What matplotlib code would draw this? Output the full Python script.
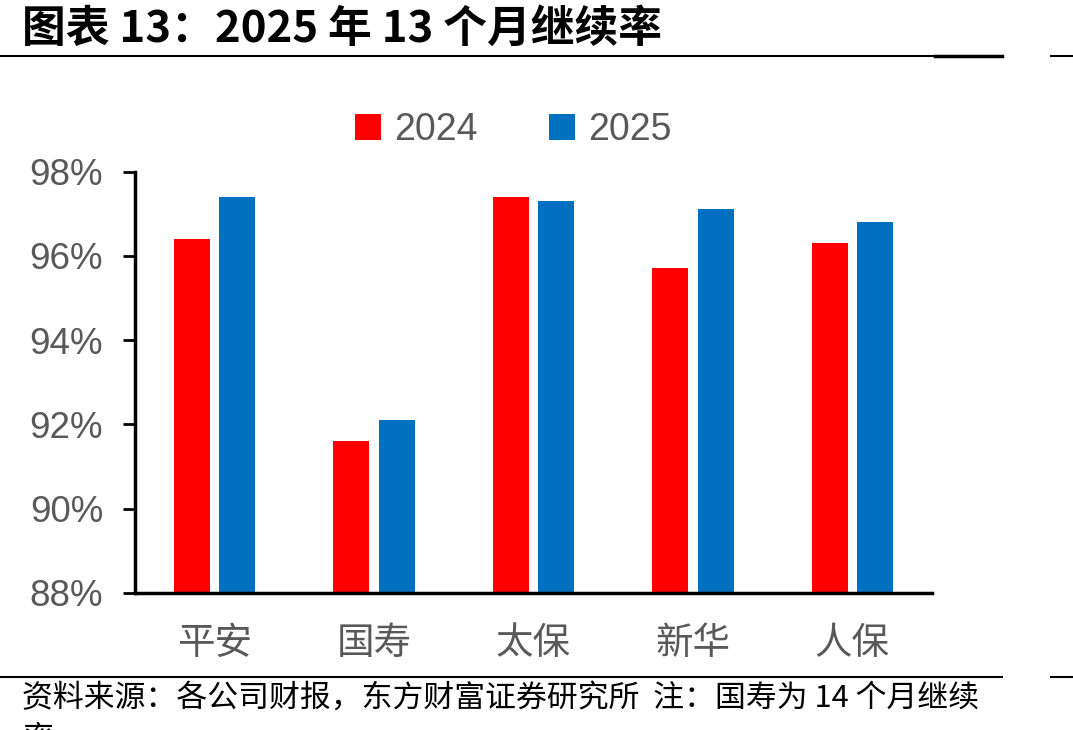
import matplotlib
matplotlib.use("Agg")
import numpy as np
import matplotlib.pyplot as plt
from matplotlib.lines import Line2D
from matplotlib.ticker import FuncFormatter

plt.rcParams['font.family'] = ['Liberation Sans', 'Noto Sans CJK SC', 'DejaVu Sans']

# ---------------- data ----------------
companies = ["平安", "国寿", "太保", "新华", "人保"]
rate_2024 = [96.4, 91.6, 97.4, 95.7, 96.3]
rate_2025 = [97.4, 92.1, 97.3, 97.1, 96.8]
series_names = ["2024", "2025"]
yticks = [88, 90, 92, 94, 96, 98]

RED = "#FF0000"
BLUE = "#0070C0"
GRAY = "#595959"

W, H = 1073, 730
fig = plt.figure(figsize=(W / 100, H / 100), dpi=100)
ax = fig.add_axes([135 / W, 1 - 593 / H, (932 - 135) / W, (593 - 171.5) / H])

x = np.arange(len(companies))
bw = 0.226
off = 0.142
ax.bar(x - off, rate_2024, bw, color=RED, label=series_names[0])
ax.bar(x + off, rate_2025, bw, color=BLUE, label=series_names[1])

ax.set_xlim(-0.5, len(companies) - 0.5)
ax.set_ylim(88, 98)
ax.set_yticks(yticks)
ax.yaxis.set_major_formatter(FuncFormatter(lambda v, p: f"{v:.0f}%"))
ax.set_xticks(x)
ax.set_xticklabels(companies, family=['Noto Sans CJK SC'], fontsize=27, color=GRAY)
ax.tick_params(axis='y', labelsize=26.5, labelcolor=GRAY, length=9, width=2, direction='out', pad=14)
ax.tick_params(axis='x', length=0, pad=22)

for s in ["top", "right"]:
    ax.spines[s].set_visible(False)
for s in ["left", "bottom"]:
    ax.spines[s].set_linewidth(2.5)

leg = ax.legend(loc="lower center", bbox_to_anchor=(0.475, 0.975), ncol=2, frameon=False,
                fontsize=27, handlelength=0.7, handleheight=0.7, handletextpad=0.35,
                columnspacing=1.9, labelcolor=GRAY)

# header / footer
fig.text(22 / W, 1 - 29 / H, "图表 13：2025 年 13 个月继续率", fontsize=31.5, fontweight='heavy',
         family=['Noto Sans CJK SC'], va='center', ha='left', color='black')
for yy in (56, 677):
    fig.add_artist(Line2D([0, 1002 / W], [1 - yy / H] * 2, color='black', lw=1.5))
    fig.add_artist(Line2D([1051 / W, 1], [1 - yy / H] * 2, color='black', lw=1.5))
fig.add_artist(Line2D([935 / W, 1002 / W], [1 - 55.5 / H] * 2, color='black', lw=2.5))

fig.text(22 / W, 1 - 698 / H, "资料来源：各公司财报，东方财富证券研究所  注：国寿为 14 个月继续",
         fontsize=22.2, family=['Noto Sans CJK SC'], va='center', ha='left', color='black')
fig.text(22 / W, 1 - 740 / H, "率", fontsize=22.2, family=['Noto Sans CJK SC'],
         va='center', ha='left', color='black')

fig.savefig("out.png", dpi=100)
